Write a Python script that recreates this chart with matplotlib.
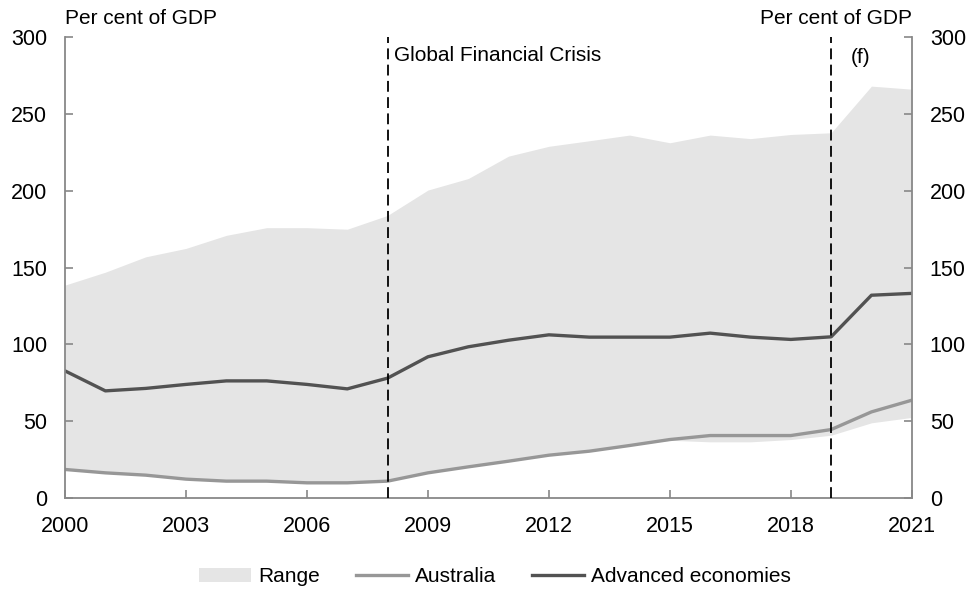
import matplotlib.pyplot as plt
import numpy as np

plt.rcParams['font.family'] = ['Liberation Sans', 'DejaVu Sans']

# data (per cent of GDP)
years = np.arange(2000, 2022)
range_high = [138.6, 147, 157, 162.5, 171, 176, 176, 175, 184, 200.5, 208,
              222.6, 229, 232.6, 236.3, 231.3, 236.3, 234, 236.7, 237.8, 268.2, 266.2]
range_low = [18.5, 16.3, 14.8, 12.2, 10.9, 10.9, 9.8, 9.8, 10.9, 16.3, 20.2,
             23.9, 27.8, 30.4, 34.1, 37.5, 36.5, 36.5, 38, 40.8, 48.9, 52.4]
australia = [18.5, 16.3, 14.8, 12.2, 10.9, 10.9, 9.8, 9.8, 10.9, 16.3, 20.2,
             23.9, 27.8, 30.4, 34.1, 38, 40.6, 40.6, 40.6, 44.5, 56, 63.6]
advanced = [82.7, 69.7, 71.3, 73.9, 76.2, 76.2, 73.9, 71, 78, 91.9, 98.4,
            102.7, 106.2, 104.7, 104.7, 104.7, 107.3, 104.7, 103.2, 104.9, 132, 133.2]
event_years = [2008, 2019]

fig = plt.figure(figsize=(9.71, 5.92), dpi=100)
ax = fig.add_axes([0.067, 0.159, 0.872, 0.778])

ax.fill_between(years, range_low, range_high, color='#e5e5e5', lw=0, label='Range')
ax.plot(years, australia, color='#979797', lw=2.4, label='Australia')
ax.plot(years, advanced, color='#525252', lw=2.4, label='Advanced economies')

for yr in event_years:
    ax.axvline(yr, color='black', lw=1.3, ls=(0, (6, 3)), zorder=5)

ax.set_xlim(2000, 2021)
ax.set_ylim(0, 300)
ax.set_xticks(range(2000, 2022, 3))
ax.set_yticks(range(0, 301, 50))

ax.spines['top'].set_visible(False)
for s in ['left', 'right', 'bottom']:
    ax.spines[s].set_color('#888888')
    ax.spines[s].set_linewidth(1.3)
ax.spines['right'].set_visible(True)

ax.tick_params(axis='both', direction='in', length=6, width=1.2, color='#888888',
               labelsize=15.5, pad=13)
ax.tick_params(axis='y', right=True, labelright=True)

ax.text(0, 1.041, 'Per cent of GDP', transform=ax.transAxes, fontsize=15,
        ha='left', va='center')
ax.text(1, 1.041, 'Per cent of GDP', transform=ax.transAxes, fontsize=15,
        ha='right', va='center')
ax.text(2008.15, 288, 'Global Financial Crisis', fontsize=15, ha='left', va='center')
ax.text(2019.73, 287, '(f)', fontsize=15, ha='center', va='center')

ax.legend(loc='upper center', bbox_to_anchor=(0.508, -0.11), ncol=3, frameon=False,
          fontsize=15, handlelength=2.5, handletextpad=0.35, columnspacing=1.7)

fig.savefig('out.png', dpi=100)
